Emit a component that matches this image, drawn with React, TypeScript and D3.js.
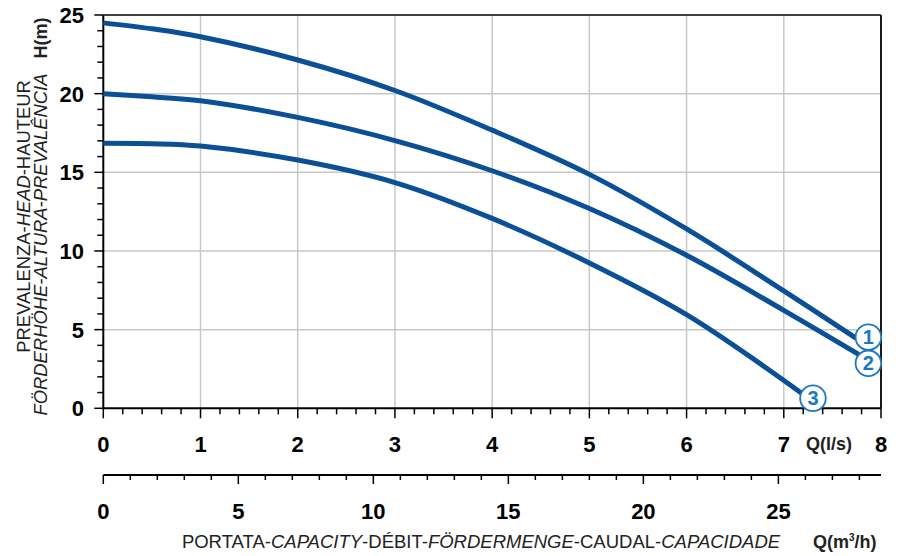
import * as d3 from "d3";

// pump curves: flow Q (l/s) vs head H (m)
const curve1Q = [0, 0.5, 1, 2, 3, 4, 5, 6, 7, 7.75];
const curve1H = [24.5, 24.12, 23.62, 22.14, 20.2, 17.68, 14.87, 11.4, 7.46, 4.43];
const curve2Q = [0, 0.5, 1, 2, 3, 4, 5, 6, 7, 7.77];
const curve2H = [20.0, 19.8, 19.55, 18.49, 17.02, 15.1, 12.7, 9.73, 6.23, 3.43];
const curve3Q = [0, 0.5, 1, 2, 3, 4, 5, 6, 7.19];
const curve3H = [16.85, 16.82, 16.67, 15.78, 14.35, 12.07, 9.24, 5.95, 0.93];

const curveNames = ["1", "2", "3"];
const labelQ = [7.87, 7.87, 7.3];
const labelH = [4.52, 2.86, 0.64];

const lsTicks = [0, 1, 2, 3, 4, 5, 6, 7, 8];
const m3hTicks = [0, 5, 10, 15, 20, 25];
const hTicks = [0, 5, 10, 15, 20, 25];

const W = 904;
const H = 556;
const blue = "#0b4f97";
const labelBlue = "#1b78c0";
const grid = "#c8c8c8";

export default function App() {
  const x = d3.scaleLinear().domain([0, 8]).range([103.3, 881]);
  const y = d3.scaleLinear().domain([0, 25]).range([408.3, 15]);
  // second axis in m3/h (1 l/s = 3.6 m3/h)
  const x2 = d3.scaleLinear().domain([0, 28.8]).range([103.3, 881]);

  const line = d3
    .line<[number, number]>()
    .x((d) => x(d[0]))
    .y((d) => y(d[1]))
    .curve(d3.curveCatmullRom.alpha(0.5));

  const series = [
    d3.zip(curve1Q, curve1H) as [number, number][],
    d3.zip(curve2Q, curve2H) as [number, number][],
    d3.zip(curve3Q, curve3H) as [number, number][],
  ];

  const minorLs = d3.range(0, 40).map((i) => i * 0.2);
  const minorH = d3.range(0, 26);
  const minorM3h = d3.range(0, 29);

  const y0 = y(0);
  const axis2Y = 475;

  return (
    <svg
      width={W}
      height={H}
      style={{ position: "absolute", left: 0, top: 0, background: "#fff" }}
      fontFamily="'Liberation Sans', Arial, sans-serif"
    >
      {/* grid */}
      {lsTicks.slice(1, 8).map((t) => (
        <line key={"gx" + t} x1={x(t)} x2={x(t)} y1={y(25)} y2={y0} stroke={grid} strokeWidth={1.5} />
      ))}
      {hTicks.slice(1, 5).map((t) => (
        <line key={"gy" + t} x1={x(0)} x2={x(8)} y1={y(t)} y2={y(t)} stroke={grid} strokeWidth={1.5} />
      ))}

      {/* frame */}
      <line x1={x(0)} x2={x(8)} y1={y(25)} y2={y(25)} stroke="#000" strokeWidth={1.5} />
      <line x1={x(8)} x2={x(8)} y1={y(25)} y2={y0} stroke="#000" strokeWidth={1.8} />
      <line x1={x(0)} x2={x(0)} y1={y(25)} y2={y0} stroke="#000" strokeWidth={2} />
      <line x1={x(0)} x2={x(8)} y1={y0} y2={y0} stroke="#000" strokeWidth={2} />

      {/* left ticks */}
      {minorH.map((t) => (
        <line key={"ht" + t} x1={x(0) - (t % 5 === 0 ? 9 : 6)} x2={x(0)} y1={y(t)} y2={y(t)} stroke="#000" strokeWidth={1.5} />
      ))}
      {hTicks.map((t) => (
        <text key={"hl" + t} x={84} y={y(t) + 7.9} textAnchor="end" fontSize={22} fontWeight="bold" fill="#000">
          {t}
        </text>
      ))}

      {/* bottom l/s ticks */}
      {minorLs.concat([8]).map((t, i) => {
        const major = i % 5 === 0;
        return (
          <line key={"xt" + i} x1={x(t)} x2={x(t)} y1={y0} y2={y0 + (major ? 10 : 6)} stroke="#000" strokeWidth={1.5} />
        );
      })}
      {lsTicks.map((t) => (
        <text key={"xl" + t} x={x(t)} y={451.5} textAnchor="middle" fontSize={22} fontWeight="bold" fill="#000">
          {t}
        </text>
      ))}
      <text x={806} y={450} fontSize={18} fontWeight="bold" fill="#222">
        Q(l/s)
      </text>

      {/* bottom m3/h axis */}
      <line x1={x2(0)} x2={x2(28.8)} y1={axis2Y} y2={axis2Y} stroke="#000" strokeWidth={1.8} />
      {minorM3h.map((t) => (
        <line key={"x2t" + t} x1={x2(t)} x2={x2(t)} y1={axis2Y} y2={axis2Y + (t % 5 === 0 ? 9 : 5)} stroke="#000" strokeWidth={1.5} />
      ))}
      {m3hTicks.map((t) => (
        <text key={"x2l" + t} x={x2(t)} y={518.5} textAnchor="middle" fontSize={22} fontWeight="bold" fill="#000">
          {t}
        </text>
      ))}
      <text x={813} y={548} fontSize={18} fontWeight="bold" fill="#222">
        Q(m<tspan fontSize={10} dy={-7}>3</tspan>
        <tspan dy={7}>/h)</tspan>
      </text>
      <text x={481} y={548} textAnchor="middle" fontSize={18.5} fill="#222">
        PORTATA-<tspan fontStyle="italic">CAPACITY</tspan>-DÉBIT-<tspan fontStyle="italic">FÖRDERMENGE</tspan>-CAUDAL-
        <tspan fontStyle="italic">CAPACIDADE</tspan>
      </text>

      {/* y titles */}
      <text transform="translate(29.5,216.5) rotate(-90)" textAnchor="middle" fontSize={18.4} fill="#222">
        PREVALENZA-<tspan fontStyle="italic">HEAD</tspan>-HAUTEUR
      </text>
      <text transform="translate(47,244.5) rotate(-90)" textAnchor="middle" fontSize={18.4} fontStyle="italic" fill="#222">
        FÖRDERHÖHE-ALTURA-PREVALÊNCIA
      </text>
      <text transform="translate(47,38) rotate(-90)" textAnchor="middle" fontSize={18} fontWeight="bold" fill="#222">
        H(m)
      </text>

      {/* curves */}
      {series.map((s, i) => (
        <path key={"c" + i} d={line(s) || ""} fill="none" stroke={blue} strokeWidth={5} />
      ))}

      {/* curve labels */}
      {curveNames.map((n, i) => (
        <g key={"lb" + n} transform={`translate(${x(labelQ[i])},${y(labelH[i])})`}>
          <circle r={12.8} fill="#fff" stroke={labelBlue} strokeWidth={1.8} />
          <text y={7} textAnchor="middle" fontSize={20} fontWeight="bold" fill={labelBlue}>
            {n}
          </text>
        </g>
      ))}
    </svg>
  );
}
